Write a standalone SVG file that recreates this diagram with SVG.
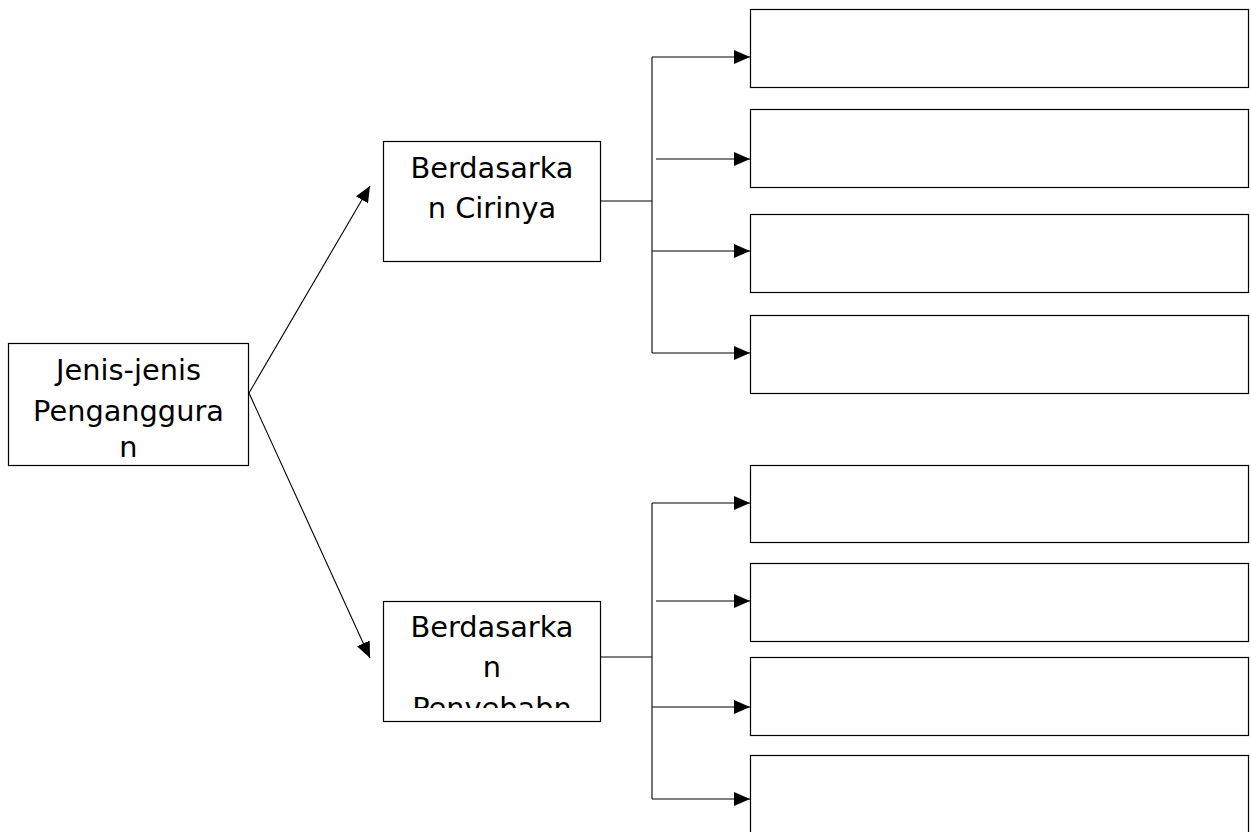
<svg xmlns="http://www.w3.org/2000/svg" width="1251" height="832" viewBox="0 0 1251 832">
<style>
.box{fill:#fff;stroke:#000;stroke-width:1.2}
.lbl{font-family:"DejaVu Sans",sans-serif;font-size:28.8px;fill:#000;text-anchor:middle}
.ln{fill:none;stroke:#000;stroke-width:1.1}
</style>
<defs>
<marker id="ah" markerWidth="16" markerHeight="14" refX="16" refY="7" orient="auto" markerUnits="userSpaceOnUse">
<path d="M0,0 L16,7 L0,14 Z" fill="#000"/>
</marker>
<clipPath id="c0"><rect x="8" y="343" width="241" height="115"/></clipPath>
<clipPath id="c1"><rect x="383" y="141" width="218" height="110"/></clipPath>
<clipPath id="c2"><rect x="383" y="601" width="218" height="107"/></clipPath>
</defs>
<g id="connectors">
<line class="ln" x1="249" y1="393" x2="370" y2="186" marker-end="url(#ah)"/>
<line class="ln" x1="249" y1="393" x2="370" y2="658" marker-end="url(#ah)"/>
<polyline class="ln" points="601,201 652,201"/>
<polyline class="ln" points="652,57 652,353"/>
<line class="ln" x1="652" y1="57" x2="750" y2="57" marker-end="url(#ah)"/>
<line class="ln" x1="656" y1="159" x2="750" y2="159" marker-end="url(#ah)"/>
<line class="ln" x1="652" y1="251" x2="750" y2="251" marker-end="url(#ah)"/>
<line class="ln" x1="652" y1="353" x2="750" y2="353" marker-end="url(#ah)"/>
<polyline class="ln" points="601,657 652,657"/>
<polyline class="ln" points="652,503 652,799"/>
<line class="ln" x1="652" y1="503" x2="750" y2="503" marker-end="url(#ah)"/>
<line class="ln" x1="656" y1="601" x2="750" y2="601" marker-end="url(#ah)"/>
<line class="ln" x1="652" y1="707" x2="750" y2="707" marker-end="url(#ah)"/>
<line class="ln" x1="652" y1="799" x2="750" y2="799" marker-end="url(#ah)"/>
</g>
<g id="root">
<rect class="box" x="8.5" y="343.5" width="240" height="122"/>
<g clip-path="url(#c0)">
<text class="lbl" x="128.5" y="380">Jenis-jenis</text>
<text class="lbl" x="128.5" y="421">Penganggura</text>
<text class="lbl" x="128.5" y="457">n</text>
</g>
</g>
<g id="ciri">
<rect class="box" x="383.5" y="141.5" width="217" height="120"/>
<g clip-path="url(#c1)">
<text class="lbl" x="492" y="178">Berdasarka</text>
<text class="lbl" x="492" y="218">n Cirinya</text>
</g>
</g>
<g id="penyebab">
<rect class="box" x="383.5" y="601.5" width="217" height="120"/>
<g clip-path="url(#c2)">
<text class="lbl" x="492" y="637">Berdasarka</text>
<text class="lbl" x="492" y="677">n</text>
<text class="lbl" x="492" y="718">Penyebabn</text>
</g>
</g>
<g id="a1"><rect class="box" x="750.5" y="9.5" width="498" height="78"/></g>
<g id="a2"><rect class="box" x="750.5" y="109.5" width="498" height="78"/></g>
<g id="a3"><rect class="box" x="750.5" y="214.5" width="498" height="78"/></g>
<g id="a4"><rect class="box" x="750.5" y="315.5" width="498" height="78"/></g>
<g id="b1"><rect class="box" x="750.5" y="465.5" width="498" height="77"/></g>
<g id="b2"><rect class="box" x="750.5" y="563.5" width="498" height="78"/></g>
<g id="b3"><rect class="box" x="750.5" y="657.5" width="498" height="78"/></g>
<g id="b4"><rect class="box" x="750.5" y="755.5" width="498" height="80"/></g>
</svg>
